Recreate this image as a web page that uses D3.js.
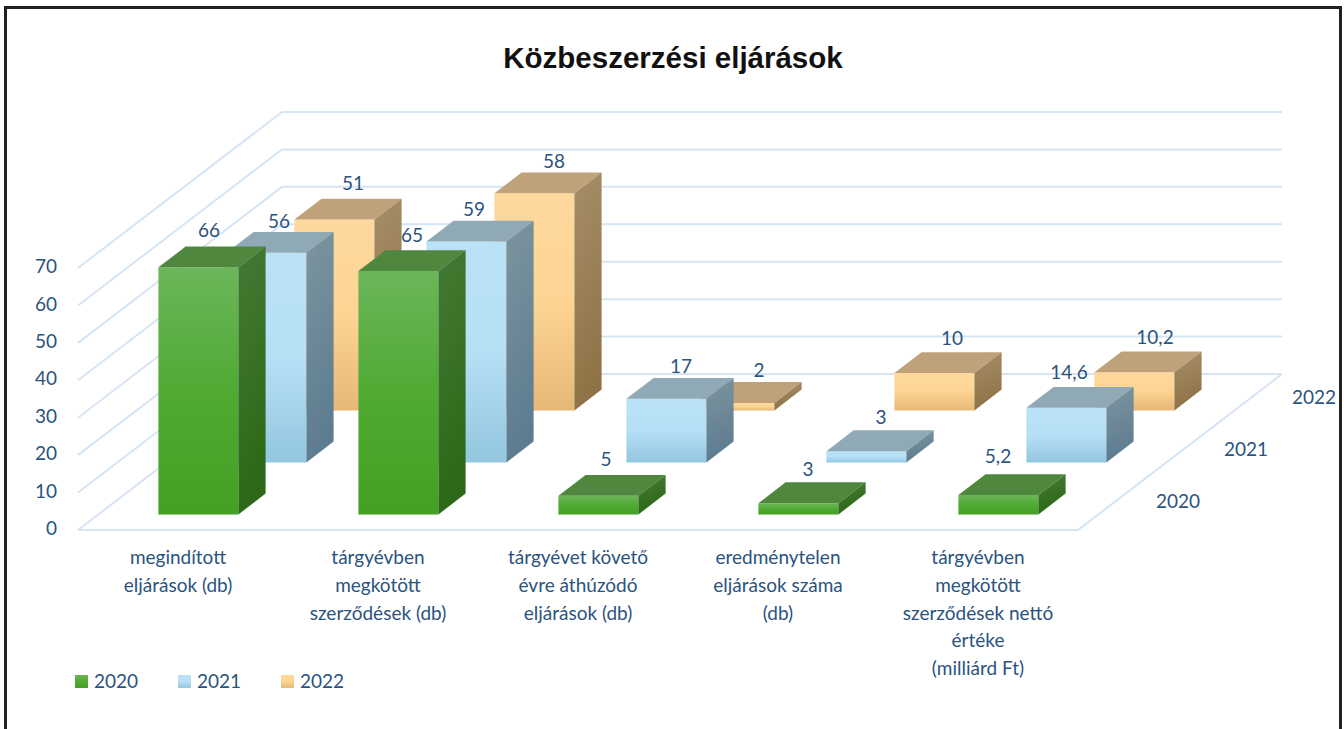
<!DOCTYPE html>
<html><head><meta charset="utf-8">
<script src="https://cdn.jsdelivr.net/npm/d3@7/dist/d3.min.js"></script>
<style>html,body{margin:0;padding:0;background:#fff;overflow:hidden}svg{display:block}</style>
</head><body><div id="chart"></div>
<script>
const title = "Közbeszerzési eljárások";
const categories = ["megindított eljárások (db)","tárgyévben megkötött szerződések (db)","tárgyévet követő évre áthúzódó eljárások (db)","eredménytelen eljárások száma (db)","tárgyévben megkötött szerződések nettó értéke (milliárd Ft)"];
const categoryLines = [["megindított","eljárások (db)"],["tárgyévben","megkötött","szerződések (db)"],["tárgyévet követő","évre áthúzódó","eljárások (db)"],["eredménytelen","eljárások száma","(db)"],["tárgyévben","megkötött","szerződések nettó","értéke","(milliárd Ft)"]];
const seriesNames = ["2020","2021","2022"];
const values2020 = [66,65,5,3,5.2];
const values2021 = [56,59,17,3,14.6];
const values2022 = [51,58,2,10,10.2];
const yTicks = [0,10,20,30,40,50,60,70];

const W=1344,H=729;
const svg=d3.select("#chart").append("svg").attr("width",W).attr("height",H);
const font="Lato, Carlito, sans-serif", ink="#2b5380", grid="#d6e5f4";
const palette={
 "2020":{f:["#6cb65a","#50aa33","#44a024"],t:"#50873f",s:["#447a35","#2c6817"]},
 "2021":{f:["#bae2f6","#b5e0f6","#94c6e0"],t:"#90a9b6",s:["#7d959f","#5d7c90"]},
 "2022":{f:["#fed89e","#fdd492","#e5b877"],t:"#bfa279",s:["#a68e69","#8f7346"]}};

// projection of the oblique chart box
const X0=78,X1=1078,Y0=530,DX=204,DY=156;
const x=d3.scaleBand().domain(categories).range([X0,X1]).paddingInner(.6).paddingOuter(.3);
const z=d3.scaleBand().domain(seriesNames).range([0,1]).paddingInner(.6).paddingOuter(.3);
const y=d3.scaleLinear().domain([0,70]).range([0,262]);
const px=(xv,zv)=>xv+zv*DX, py=(h,zv)=>Y0-y(h)-zv*DY;
const line=d3.line();

const defs=svg.append("defs");
function grad(id,stops,x2,y2){
  const g=defs.append("linearGradient").attr("id",id).attr("x1",0).attr("y1",0).attr("x2",x2).attr("y2",y2);
  stops.forEach((c,i)=>g.append("stop").attr("offset",i/(stops.length-1)).attr("stop-color",c));
}
seriesNames.forEach(s=>{grad("f"+s,palette[s].f,0,1);grad("s"+s,palette[s].s,.2,1);});

// frame
const frame=svg.append("g").attr("stroke","#231f20").attr("stroke-width",3).attr("fill","none");
frame.append("path").attr("d",line([[5.5,H],[5.5,7.5],[1340.5,7.5],[1340.5,H]]));

svg.append("text").attr("x",673).attr("y",67.5).attr("text-anchor","middle")
  .attr("font-family","'Liberation Sans',Arial,sans-serif").attr("font-weight",700).attr("font-size",29.5).attr("fill","#111").text(title);

// gridlines
const gg=svg.append("g").attr("fill","none").attr("stroke",grid).attr("stroke-width",2);
yTicks.forEach(t=>gg.append("path").attr("d",line([[X0,py(t,0)],[px(X0,1),py(t,1)],[px(X1,1)+0,py(t,1)]])));
gg.append("path").attr("d",line([[X0,Y0],[X1,Y0],[px(X1,1),py(0,1)]]));

// value axis
const yAxis=d3.scaleLinear().domain([0,70]).range([Y0,Y0-262]);
const ax=svg.append("g").attr("transform","translate(57,-1.5)").call(d3.axisLeft(yAxis).tickValues(yTicks).tickSize(0).tickPadding(0).tickFormat(d3.format("d")));
ax.select(".domain").remove();
ax.selectAll("text").attr("font-family",font).attr("font-size",19).attr("fill",ink);

// bars, back to front
const bars=svg.append("g");
const byS={"2020":values2020,"2021":values2021,"2022":values2022};
[...seriesNames].reverse().forEach(s=>{
  categories.forEach((c,i)=>{
    const v=byS[s][i];
    const a=x(c),b=a+x.bandwidth(),zf=z(s),zb=zf+z.bandwidth();
    const g=bars.append("g");
    const A=(xv,h,zv)=>[px(xv,zv),py(h,zv)];
    g.append("path").attr("d",line([A(a,0,zf),A(b,0,zf),A(b,v,zf),A(a,v,zf)])+"Z").attr("fill",`url(#f${s})`);
    g.append("path").attr("d",line([A(a,v,zf),A(b,v,zf),A(b,v,zb),A(a,v,zb)])+"Z").attr("fill",palette[s].t);
    g.append("path").attr("d",line([A(b,0,zf),A(b,0,zb),A(b,v,zb),A(b,v,zf)])+"Z").attr("fill",`url(#s${s})`);
  });
});

// data labels, on top of the bars
const fmt=v=>String(v).replace(".",",");
const nudge={"2020":[[-3,-3],[0,-1],[-6,-2],[-4,1],[-14,-4]],"2021":[[-1,3],[-6,2],[1,2],[1,1],[-11,-1]],"2022":[[5,-2],[6,2],[11,2],[4,0],[7,0]]};
const labels=svg.append("g").attr("font-family",font).attr("font-size",19).attr("fill",ink).attr("text-anchor","middle");
seriesNames.forEach(s=>categories.forEach((c,i)=>{
  const v=byS[s][i],zc=z(s)+z.bandwidth()/2;
  labels.append("text").attr("x",px(x(c)+x.bandwidth()/2,zc)+nudge[s][i][0]).attr("y",py(v,zc)-24+nudge[s][i][1]).attr("dy","0.35em").text(fmt(v));
}));

// category labels
const catG=svg.append("g").attr("font-family",font).attr("font-size",19).attr("fill",ink).attr("text-anchor","middle");
categories.forEach((c,i)=>{
  categoryLines[i].forEach((l,j)=>catG.append("text").attr("x",x(c)+x.bandwidth()/2).attr("y",564+j*27.8).text(l));
});

// depth axis
const depthG=svg.append("g").attr("font-family",font).attr("font-size",19).attr("fill",ink).attr("text-anchor","middle");
seriesNames.forEach(s=>{
  const zc=z(s)+z.bandwidth()/2;
  depthG.append("text").attr("x",px(X1,zc)+66-0).attr("y",py(0,zc)-3).attr("dy","0.35em").text(s);
});

// legend
const lx=d3.scalePoint().domain(seriesNames).range([75,281]);
const leg=svg.append("g");
seriesNames.forEach(s=>{
  leg.append("rect").attr("x",lx(s)).attr("y",675).attr("width",13).attr("height",13).attr("fill",`url(#f${s})`);
  leg.append("text").attr("x",lx(s)+19).attr("y",681).attr("dy","0.35em").attr("font-family",font).attr("font-size",19).attr("fill",ink).text(s);
});
</script></body></html>
